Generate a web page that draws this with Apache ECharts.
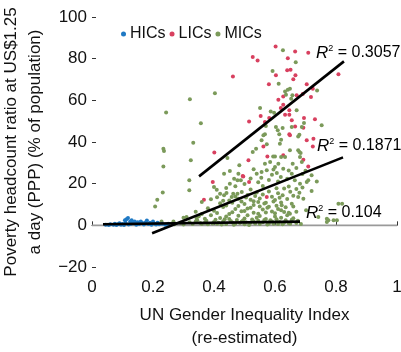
<!DOCTYPE html>
<html><head><meta charset="utf-8">
<script src="https://cdn.jsdelivr.net/npm/echarts@6/dist/echarts.min.js"></script>
<style>html,body{margin:0;padding:0;background:#fff}#c{width:401px;height:352px}</style>
</head><body><div id="c"></div>
<script>
const FONT = 'Liberation Sans, Arial, sans-serif';
const xTicks = [0, 0.2, 0.4, 0.6, 0.8, 1];
const yTicks = [-20, 0, 20, 40, 60, 80, 100];
const seriesNames = ['HICs', 'LICs', 'MICs'];

const hics = [[0.045,0.3],[0.055,0.2],[0.06,0.5],[0.07,0.3],[0.075,0.8],[0.08,0.2],[0.085,0.5],[0.09,1.0],[0.095,0.3],[0.10,0.6],[0.105,0.2],[0.108,2.4],[0.11,1.2],[0.113,2.9],[0.118,3.5],[0.12,0.4],[0.125,1.9],[0.128,0.8],[0.13,2.4],[0.135,1.0],[0.14,1.9],[0.145,0.3],[0.15,1.5],[0.155,0.6],[0.16,1.9],[0.165,1.1],[0.17,0.4],[0.175,1.4],[0.18,2.3],[0.185,0.7],[0.19,1.2],[0.195,0.3],[0.20,1.9],[0.205,0.9],[0.21,0.4],[0.215,1.2],[0.22,0.5],[0.23,0.8],[0.24,0.3],[0.25,0.6]];

const lics = [[0.462,71.5],[0.515,49.9],[0.602,85.9],[0.666,83.4],[0.709,82.9],[0.527,80.8],[0.543,79.1],[0.642,80.2],[0.640,74.4],[0.651,74.7],[0.603,72.0],[0.667,72.0],[0.660,70.1],[0.808,72.5],[0.580,67.7],[0.704,67.7],[0.724,65.6],[0.718,61.6],[0.611,60.3],[0.627,61.9],[0.671,62.4],[0.691,63.0],[0.627,57.9],[0.619,56.3],[0.647,55.2],[0.633,53.1],[0.647,53.1],[0.581,51.5],[0.567,49.6],[0.553,52.5],[0.655,50.4],[0.695,51.5],[0.647,43.7],[0.401,35.0],[0.649,43.2],[0.693,46.9],[0.704,40.8],[0.731,50.9],[0.726,41.6],[0.666,47.5],[0.562,37.9],[0.575,33.1],[0.627,33.6],[0.724,37.9],[0.693,31.5],[0.709,28.3],[0.573,13.6],[0.396,20.8],[0.367,12.3],[0.494,23.7],[0.513,31.2],[0.515,20.8],[0.496,23.5]];

const mics = [[0.403,63.4],[0.321,60.5],[0.243,54.2],[0.357,49.0],[0.626,84.0],[0.668,78.3],[0.592,74.1],[0.612,68.0],[0.738,64.7],
[0.633,64.3],[0.642,65.1],[0.649,65.6],[0.636,62.7],[0.657,62.4],[0.653,60.8],
[0.551,56.3],[0.586,54.7],[0.597,54.1],[0.671,55.2],
[0.695,49.1],[0.688,47.2],[0.753,48.0],[0.570,47.7],[0.603,47.2],[0.625,46.7],[0.655,47.2],
[0.567,43.7],[0.614,43.7],[0.680,43.5],
[0.332,39.7],[0.562,43.2],[0.556,40.8],[0.527,35.2],[0.538,36.8],[0.573,38.9],
[0.609,45.6],[0.620,41.1],[0.616,39.2],[0.676,36.0],[0.684,34.7],[0.620,32.8],[0.600,33.1],
[0.234,36.8],[0.236,35.7],[0.234,28.3],[0.324,31.2],[0.319,21.6],[0.319,16.8],[0.232,15.8],[0.214,12.3],[0.207,9.1],
[0.444,32.3],[0.452,26.1],[0.433,24.8],[0.466,22.4],[0.477,21.6],[0.488,21.6],[0.452,20.0],[0.480,24.8],[0.483,28.8],
[0.409,17.1],[0.420,15.2],[0.433,14.4],[0.441,15.5],[0.458,13.6],[0.463,15.2],[0.477,15.2],[0.491,16.0],
[0.676,42.7],[0.649,36.0],[0.680,35.2],[0.682,32.8],[0.688,30.4],[0.633,32.8],[0.594,33.1],[0.600,28.0],[0.584,30.4],[0.567,29.6],[0.573,26.4],[0.556,25.6],[0.540,24.8],[0.606,25.1],[0.619,23.2],[0.627,27.2],[0.611,29.6],[0.737,21.1],[0.709,21.6],[0.682,20.0],[0.658,29.6],[0.655,24.8],
[0.693,12.8],[0.702,7.2],[0.742,4.0],[0.770,3.2],[0.775,2.4],[0.792,2.4],[0.803,2.4],[0.808,10.4],[0.820,10.4],[0.770,1.6],
[0.228,1.9],[0.267,1.9],[0.310,4.0],[0.343,3.2],
[0.676,13.6],[0.649,5.6],[0.704,20.8],[0.655,10.4],[0.622,9.6],
[0.25,0.8],[0.27,0.5],[0.29,1.2],[0.30,0.4],[0.32,1.5],[0.33,0.6],[0.34,1.8],[0.36,0.7],[0.37,1.3],[0.38,0.5],[0.40,1.6],[0.41,0.8],[0.43,1.9],[0.44,0.6],[0.46,1.4],[0.47,0.9],[0.49,1.7],[0.50,0.5],[0.52,1.2],[0.53,1.9],[0.55,0.7],[0.56,1.5],[0.58,0.9],[0.59,1.8],[0.61,0.6],[0.63,1.4],[0.65,0.8],[0.67,1.1],
[0.30,3.6],[0.35,4.4],[0.37,3.2],[0.39,4.8],[0.42,3.5],[0.44,4.2],[0.45,3.0],[0.48,4.6],[0.50,3.3],[0.51,4.9],[0.54,3.7],[0.55,4.5],[0.57,3.1],[0.60,4.3],[0.62,3.6],[0.64,4.8],[0.66,3.4],
[0.34,6.5],[0.38,8.2],[0.40,7.0],[0.43,8.8],[0.46,6.3],[0.47,7.9],[0.49,6.8],[0.52,8.5],[0.53,6.1],[0.56,7.6],[0.58,8.9],[0.59,6.6],[0.61,7.8],[0.63,6.4],
[0.36,11.2],[0.39,12.5],[0.42,10.6],[0.45,11.9],[0.48,12.8],[0.50,10.3],[0.53,11.6],[0.55,12.9],[0.57,10.8],[0.60,12.2],[0.62,11.0],
[0.40,18.4],[0.44,17.9],[0.47,18.8],[0.51,14.6],[0.52,17.2],[0.54,15.8],[0.56,18.9],[0.58,16.3],[0.61,15.4],[0.63,17.7],[0.65,16.1],
[0.345,2.5],[0.355,1.1],[0.375,2.2],[0.395,0.9],[0.405,2.7],[0.415,1.3],[0.425,0.4],[0.435,2.9],[0.455,2.1],[0.465,0.3],[0.475,2.6],[0.485,1.1],[0.495,2.3],[0.505,1.5],[0.515,0.2],[0.525,2.8],[0.535,0.9],[0.545,2.2],[0.565,2.6],[0.575,0.4],[0.585,2.4],[0.595,0.8],[0.605,2.9],[0.615,1.6],[0.625,0.5],[0.635,2.5],[0.645,1.0],[0.655,2.7],[0.675,2.2],[0.685,0.6],
[0.36,5.4],[0.41,5.9],[0.44,9.5],[0.45,5.5],[0.48,9.3],[0.50,6.9],[0.51,8.1],[0.53,9.8],[0.545,5.6],[0.55,9.1],[0.57,6.2],[0.575,8.4],[0.60,5.8],[0.605,9.4],[0.62,7.2],[0.635,8.7],[0.645,6.0],[0.66,9.0],[0.67,6.5],
[0.41,13.5],[0.43,11.8],[0.46,10.9],[0.47,13.9],[0.49,11.5],[0.505,13.4],[0.52,12.3],[0.535,14.1],[0.545,11.2],[0.56,14.8],[0.565,10.5],[0.59,13.7],[0.595,11.4],[0.605,17.8],[0.615,13.2],[0.625,14.5],[0.64,12.7],[0.645,18.6],[0.66,14.2],[0.67,17.4],[0.68,15.6],[0.69,18.2],[0.72,16.5],
[0.50,19.8],[0.52,22.5],[0.53,26.9],[0.545,20.7],[0.555,22.9],[0.58,21.8],[0.59,24.3],[0.595,26.8],[0.61,21.0],[0.64,22.4],[0.645,26.3],[0.665,21.7],[0.67,27.5],[0.69,24.6],[0.70,26.2],[0.72,24.0]];

const fitLIC = [[0.351,23.5],[0.826,78.7]];
const fitMIC = [[0.197,-3.8],[0.823,32.6]];
const fitHIC = [[0.036,0.5],[0.682,1.8]];
const zeroLine = [[xTicks[0],0],[xTicks[xTicks.length-1],0]];
const r2Labels = ['0.3057', '0.1871', '0.104'];

const colors = {HICs:'#1f79c4', LICs:'#d8405f', MICs:'#7b9a5a'};

const chart = echarts.init(document.getElementById('c'), null, {renderer:'canvas'});

function dotSeries(name, data, z) {
  return {name, type:'scatter', data, symbol:'circle', symbolSize:4, z,
    itemStyle:{color:colors[name], opacity:1}, emphasis:{disabled:true}, silent:true};
}
function fitSeries(data, color, width, z) {
  return {type:'line', data, symbol:'none', z, silent:true,
    lineStyle:{color, width}};
}
const rich = {
  r:{fontStyle:'italic', fontSize:17, fontFamily:FONT, color:'#111'},
  s:{fontSize:9, fontFamily:FONT, color:'#111', padding:[0,0,9,0]},
  t:{fontSize:16, fontFamily:FONT, color:'#111'}
};
function r2Text(x, y, val) {
  return {type:'text', x, y, z:20, style:{text:'{r|R}{s|2}{t| = ' + val + '}', rich, verticalAlign:'middle', align:'left'}};
}

chart.setOption({
  animation:false,
  textStyle:{fontFamily:FONT},
  grid:{left:92, right:4, top:17, bottom:85, containLabel:false, outerBoundsMode:'none'},
  legend:{data:seriesNames, left:116, top:21, icon:'circle', itemWidth:5, itemHeight:5, itemGap:4,
    textStyle:{fontSize:16, color:'#111', fontFamily:FONT, padding:[0,0,0,-1]}},
  xAxis:{type:'value', min:xTicks[0], max:xTicks[xTicks.length-1], interval:0.2,
    axisLine:{show:true, lineStyle:{color:'#333', width:1}},
    axisTick:{show:true, inside:true, length:4, lineStyle:{color:'#333'}},
    splitLine:{show:false},
    axisLabel:{fontSize:17, color:'#111', margin:12, fontFamily:FONT, showMaxLabel:true},
    name:'UN Gender Inequality Index\n(re-estimated)', nameLocation:'middle', nameGap:37,
    nameTextStyle:{fontSize:17, color:'#111', lineHeight:23, fontFamily:FONT}},
  yAxis:{type:'value', min:yTicks[0], max:yTicks[yTicks.length-1], interval:20,
    axisLine:{show:false},
    axisTick:{show:true, inside:true, length:4, lineStyle:{color:'#333'}},
    splitLine:{show:false},
    axisLabel:{fontSize:17, color:'#111', margin:5, fontFamily:FONT,
      formatter:v => v < 0 ? '\u2212' + Math.abs(v) : String(v)},
    name:'Poverty headcount ratio at US$1.25\na day (PPP) (% of population)', nameLocation:'middle', nameGap:36,
    nameTextStyle:{fontSize:17, color:'#111', lineHeight:24, fontFamily:FONT}},
  graphic:[r2Text(316, 53, r2Labels[0]), r2Text(317, 146, r2Labels[1]), r2Text(306, 213, r2Labels[2])],
  series:[fitSeries(zeroLine, '#9a9a9a', 1.6, 1),
    dotSeries('HICs', hics, 4), dotSeries('LICs', lics, 3), dotSeries('MICs', mics, 3),
    fitSeries(fitLIC, '#000', 2.6, 10), fitSeries(fitMIC, '#000', 2.6, 10), fitSeries(fitHIC, '#000', 2.6, 10)]
});
</script></body></html>
